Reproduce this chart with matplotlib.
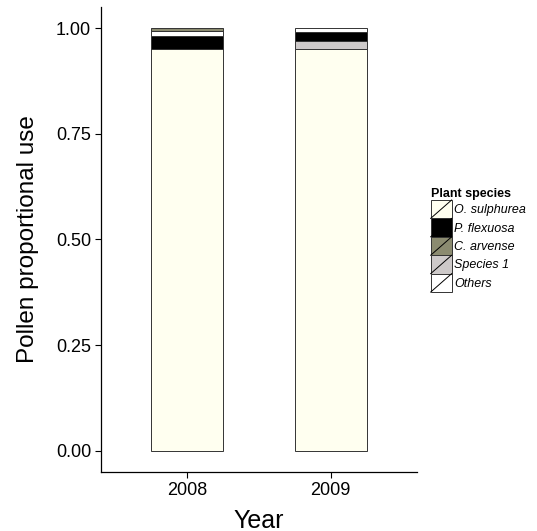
import numpy as np
import matplotlib
matplotlib.use("Agg")
import matplotlib.pyplot as plt
from matplotlib.patches import Rectangle
from matplotlib.lines import Line2D
from matplotlib.legend_handler import HandlerBase

plt.rcParams['font.family'] = ['Liberation Sans', 'DejaVu Sans']

years = ["2008", "2009"]
species = ["O. sulphurea", "P. flexuosa", "C. arvense", "Species 1", "Others"]
colors = ["#FFFFF0", "#000000", "#8B8B70", "#CDC9C9", "#FFFFFF"]

o_sulphurea = [0.950, 0.950]
p_flexuosa = [0.031, 0.021]
c_arvense = [0.007, 0.0]
species_1 = [0.0, 0.020]
others = [0.012, 0.009]

# stacking order (bottom to top) differs between years in the original
stack_2008 = ["O. sulphurea", "P. flexuosa", "Others", "C. arvense"]
stack_2009 = ["O. sulphurea", "Species 1", "P. flexuosa", "Others"]

values = {"O. sulphurea": o_sulphurea, "P. flexuosa": p_flexuosa,
          "C. arvense": c_arvense, "Species 1": species_1, "Others": others}
col_of = dict(zip(species, colors))

fig = plt.figure(figsize=(5.37, 5.31), dpi=100)
ax = fig.add_axes([0.188, 0.111, 0.5885, 0.876])

xpos = np.arange(1, len(years) + 1)
for i, order in enumerate([stack_2008, stack_2009]):
    bottom = 0.0
    for sp in order:
        v = values[sp][i]
        if v <= 0:
            continue
        ax.bar(xpos[i], v, bottom=bottom, width=0.5, color=col_of[sp],
               edgecolor="#333333", linewidth=0.7)
        bottom += v

ax.set_xlim(0.4, 2.6)
ax.set_ylim(-0.05, 1.05)
ax.set_xticks(xpos)
ax.set_xticklabels(years)
ax.set_yticks([0, 0.25, 0.5, 0.75, 1.0])
ax.set_yticklabels(["0.00", "0.25", "0.50", "0.75", "1.00"])
ax.tick_params(labelsize=13, length=4, width=0.8, colors="black", pad=3)
for s in ["top", "right"]:
    ax.spines[s].set_visible(False)
for s in ["left", "bottom"]:
    ax.spines[s].set_linewidth(0.9)
ax.set_xlabel("Year", fontsize=18, labelpad=7)
ax.set_ylabel("Pollen proportional use", fontsize=17.5, labelpad=12)


class SlashKey(HandlerBase):
    def create_artists(self, legend, orig, xd, yd, w, h, fontsize, trans):
        r = Rectangle((-xd, -yd), w, h, facecolor=orig.get_facecolor(),
                      edgecolor="#333333", linewidth=0.7, transform=trans)
        l = Line2D([-xd, -xd + w], [-yd, -yd + h], color="black",
                   linewidth=0.7, transform=trans)
        return [r, l]


handles = [Rectangle((0, 0), 1, 1, facecolor=c) for c in colors]
labels = species
leg = fig.legend(handles, labels, handler_map={Rectangle: SlashKey()},
                 loc="upper left", bbox_to_anchor=(0.802, 0.646),
                 frameon=False, fontsize=9, title="Plant species",
                 title_fontproperties={"weight": "bold", "size": 9},
                 handlelength=1.68, handleheight=1.89, labelspacing=0,
                 handletextpad=0.2, borderpad=0, borderaxespad=0)
leg._legend_box.align = "left"
for t in leg.get_texts():
    t.set_fontstyle("italic")

fig.savefig("out.png", dpi=100)
